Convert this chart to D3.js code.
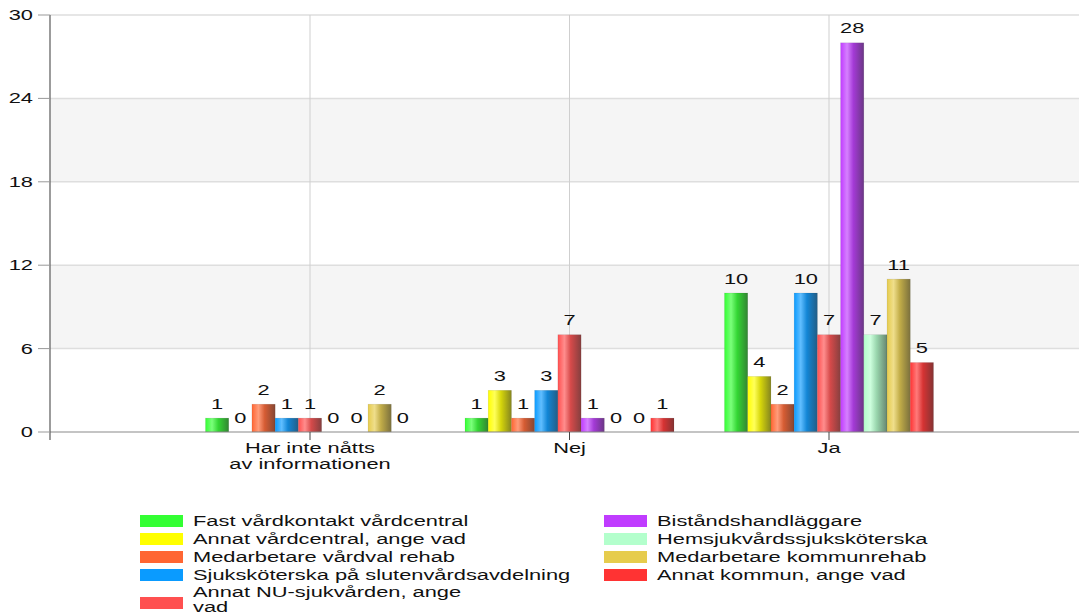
<!DOCTYPE html>
<html>
<head>
<meta charset="utf-8">
<script src="https://cdn.jsdelivr.net/npm/d3@7"></script>
<style>
  html, body { margin: 0; padding: 0; background: #fff; }
  svg { display: block; font-family: "Liberation Sans", Arial, sans-serif; }
</style>
</head>
<body>
<svg id="chart" width="1079" height="614"></svg>
<script>
// Answer categories (x axis), "\n" marks a line break in the axis label
const categories = ["Har inte nåtts\nav informationen", "Nej", "Ja"];

// Respondent groups (one bar per group in each category)
const seriesNames = [
  "Fast vårdkontakt vårdcentral",
  "Annat vårdcentral, ange vad",
  "Medarbetare vårdval rehab",
  "Sjuksköterska på slutenvårdsavdelning",
  "Annat NU-sjukvården, ange vad",
  "Biståndshandläggare",
  "Hemsjukvårdssjuksköterska",
  "Medarbetare kommunrehab",
  "Annat kommun, ange vad"
];
const legendLabels = [
  "Fast vårdkontakt vårdcentral",
  "Annat vårdcentral, ange vad",
  "Medarbetare vårdval rehab",
  "Sjuksköterska på slutenvårdsavdelning",
  "Annat NU-sjukvården, ange\nvad",
  "Biståndshandläggare",
  "Hemsjukvårdssjuksköterska",
  "Medarbetare kommunrehab",
  "Annat kommun, ange vad"
];
const seriesColors = [
  "#33ff33", "#ffff00", "#ff6633", "#0a9bff", "#ff5050",
  "#c03cff", "#b3ffcc", "#e6cc4d", "#ff3333"
];

// Counts per category, in series order
const valuesHarInte = [1, 0, 2, 1, 1, 0, 0, 2, 0];
const valuesNej     = [1, 3, 1, 3, 7, 1, 0, 0, 1];
const valuesJa      = [10, 4, 2, 10, 7, 28, 7, 11, 5];

const yTicks = [0, 6, 12, 18, 24, 30];

const table = [valuesHarInte, valuesNej, valuesJa].map((vals, ci) =>
  vals.map((v, si) => ({ category: categories[ci], series: si, value: v }))
);

// ---- layout ----
const W = 1079, H = 614;
const plot = { left: 50, right: 1079, top: 15, bottom: 432 };
const FS = 14;          // font size
const SX = 1.56;        // horizontal text stretch

const svg = d3.select("#chart");
const defs = svg.append("defs");

const x = d3.scalePoint().domain(categories).range([310, 829]);
const groupWidth = 209;
const xs = d3.scaleBand().domain(d3.range(seriesNames.length))
  .range([-groupWidth / 2, groupWidth / 2]).paddingInner(0).paddingOuter(0);
const y = d3.scaleLinear().domain([0, 30]).range([plot.bottom, plot.top]);

// stretched text helper
function stext(g, tx, ty, str, anchor) {
  return g.append("text")
    .attr("transform", `translate(${tx},${ty}) scale(${SX},1)`)
    .attr("text-anchor", anchor || "start")
    .attr("font-size", FS)
    .attr("fill", "#111")
    .text(str);
}

// alternating bands
for (let i = 0; i < yTicks.length - 1; i++) {
  if (i % 2 === 1) {
    svg.append("rect")
      .attr("x", plot.left).attr("width", plot.right - plot.left)
      .attr("y", y(yTicks[i + 1])).attr("height", y(yTicks[i]) - y(yTicks[i + 1]))
      .attr("fill", "#f5f5f5");
  }
}

// horizontal gridlines
svg.append("g").selectAll("line").data(yTicks.filter(t => t > 0)).join("line")
  .attr("x1", plot.left).attr("x2", plot.right)
  .attr("y1", d => y(d)).attr("y2", d => y(d))
  .attr("stroke", "#dedede").attr("stroke-width", 1.5);

// vertical gridlines at category centers
svg.append("g").selectAll("line").data(categories).join("line")
  .attr("x1", d => x(d)).attr("x2", d => x(d))
  .attr("y1", plot.top).attr("y2", plot.bottom)
  .attr("stroke", "#cfcfcf").attr("stroke-width", 1);

// bar gradients
seriesColors.forEach((c, i) => {
  const light = d3.interpolateRgb(c, "#ffffff")(0.35);
  const mid = d3.interpolateRgb(c, "#333333")(0.2);
  const dark = d3.interpolateRgb(c, "#333333")(0.6);
  const g = defs.append("linearGradient").attr("id", "grad" + i)
    .attr("x1", "0%").attr("x2", "100%").attr("y1", "0%").attr("y2", "0%");
  g.append("stop").attr("offset", "0%").attr("stop-color", c);
  g.append("stop").attr("offset", "28%").attr("stop-color", light);
  g.append("stop").attr("offset", "55%").attr("stop-color", mid);
  g.append("stop").attr("offset", "100%").attr("stop-color", dark);
});

// bars
const groups = svg.append("g").selectAll("g").data(table).join("g")
  .attr("transform", d => `translate(${x(d[0].category)},0)`);

groups.selectAll("rect").data(d => d.filter(e => e.value > 0)).join("rect")
  .attr("x", d => xs(d.series))
  .attr("width", xs.bandwidth())
  .attr("y", d => y(d.value))
  .attr("height", d => y(0) - y(d.value))
  .attr("fill", d => `url(#grad${d.series})`)
  .attr("stroke", "rgba(0,0,0,0.12)").attr("stroke-width", 0.6);

// value labels
groups.each(function (d) {
  const g = d3.select(this);
  d.forEach(e => {
    stext(g, xs(e.series) + xs.bandwidth() / 2, y(e.value) - 9.5, String(e.value), "middle");
  });
});

// axes lines
svg.append("line").attr("x1", plot.left).attr("x2", plot.right)
  .attr("y1", y(0)).attr("y2", y(0)).attr("stroke", "#8a8a8a").attr("stroke-width", 1.2);
svg.append("line").attr("x1", plot.left).attr("x2", plot.left)
  .attr("y1", plot.top).attr("y2", y(0) + 8).attr("stroke", "#666").attr("stroke-width", 1.3);

// y ticks + labels
const yAxis = svg.append("g");
yTicks.forEach(t => {
  yAxis.append("line").attr("x1", 38).attr("x2", plot.left)
    .attr("y1", y(t)).attr("y2", y(t)).attr("stroke", "#999");
  stext(yAxis, 33, y(t) + 5, String(t), "end");
});

// x ticks + category labels
const xAxis = svg.append("g");
categories.forEach(c => {
  xAxis.append("line").attr("x1", x(c)).attr("x2", x(c))
    .attr("y1", y(0)).attr("y2", y(0) + 8).attr("stroke", "#444");
  c.split("\n").forEach((line, li) => {
    stext(xAxis, x(c), 453 + li * 16, line, "middle");
  });
});

// legend
const legend = svg.append("g");
const colX = [140, 604];
const rowCenters = [521, 539, 557, 575, 603];
legendLabels.forEach((label, i) => {
  const col = i < 5 ? 0 : 1;
  const row = i < 5 ? i : i - 5;
  const cy = rowCenters[row];
  legend.append("rect")
    .attr("x", colX[col]).attr("y", cy - 6).attr("width", 43).attr("height", 12)
    .attr("fill", seriesColors[i]);
  const lines = label.split("\n");
  const firstBase = lines.length > 1 ? 597 : cy + 5;
  lines.forEach((ln, li) => {
    stext(legend, colX[col] + 53, firstBase + li * 15, ln, "start");
  });
});
</script>
</body>
</html>
